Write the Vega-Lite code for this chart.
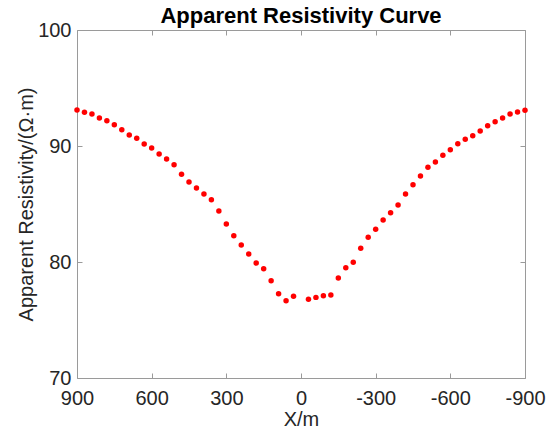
{
  "$schema": "https://vega.github.io/schema/vega-lite/v6.json",
  "width": 448,
  "height": 348,
  "autosize": {"type": "none"},
  "padding": {"left": 77, "top": 30, "right": 29, "bottom": 52},
  "background": "white",
  "title": {
    "text": "Apparent Resistivity Curve",
    "font": "Liberation Sans",
    "fontSize": 22,
    "fontWeight": "bold",
    "color": "#000000",
    "anchor": "middle",
    "offset": 4,
    "dy": 12
  },
  "config": {
    "view": {"stroke": null},
    "axis": {
      "labelFont": "Liberation Sans",
      "titleFont": "Liberation Sans",
      "labelFontSize": 20,
      "titleFontSize": 20,
      "labelColor": "#262626",
      "titleColor": "#262626",
      "titleFontWeight": "normal",
      "domainColor": "#9a9a9a",
      "tickColor": "#9a9a9a",
      "domainWidth": 1,
      "tickWidth": 1,
      "grid": false
    }
  },
  "data": {
    "values": [
      {"x": 900, "rho": 93.1},
      {"x": 870, "rho": 92.9},
      {"x": 840, "rho": 92.76},
      {"x": 810, "rho": 92.41},
      {"x": 780, "rho": 92.18},
      {"x": 750, "rho": 91.84},
      {"x": 720, "rho": 91.41},
      {"x": 690, "rho": 90.95},
      {"x": 660, "rho": 90.66},
      {"x": 630, "rho": 90.17},
      {"x": 600, "rho": 89.83},
      {"x": 570, "rho": 89.31},
      {"x": 540, "rho": 88.88},
      {"x": 510, "rho": 88.39},
      {"x": 480, "rho": 87.56},
      {"x": 450, "rho": 86.9},
      {"x": 420, "rho": 86.38},
      {"x": 390, "rho": 85.86},
      {"x": 360, "rho": 85.37},
      {"x": 330, "rho": 84.4},
      {"x": 300, "rho": 83.28},
      {"x": 270, "rho": 82.27},
      {"x": 240, "rho": 81.47},
      {"x": 210, "rho": 80.69},
      {"x": 180, "rho": 79.91},
      {"x": 150, "rho": 79.42},
      {"x": 120, "rho": 78.39},
      {"x": 90, "rho": 77.27},
      {"x": 60, "rho": 76.66},
      {"x": 30, "rho": 77.04},
      {"x": -30, "rho": 76.78},
      {"x": -60, "rho": 76.95},
      {"x": -90, "rho": 77.1},
      {"x": -120, "rho": 77.16},
      {"x": -150, "rho": 78.62},
      {"x": -180, "rho": 79.51},
      {"x": -210, "rho": 79.97},
      {"x": -240, "rho": 81.18},
      {"x": -270, "rho": 82.13},
      {"x": -300, "rho": 82.82},
      {"x": -330, "rho": 83.62},
      {"x": -360, "rho": 84.25},
      {"x": -390, "rho": 84.91},
      {"x": -420, "rho": 85.86},
      {"x": -450, "rho": 86.66},
      {"x": -480, "rho": 87.41},
      {"x": -510, "rho": 88.16},
      {"x": -540, "rho": 88.62},
      {"x": -570, "rho": 89.2},
      {"x": -600, "rho": 89.68},
      {"x": -630, "rho": 90.2},
      {"x": -660, "rho": 90.58},
      {"x": -690, "rho": 90.89},
      {"x": -720, "rho": 91.29},
      {"x": -750, "rho": 91.75},
      {"x": -780, "rho": 92.1},
      {"x": -810, "rho": 92.41},
      {"x": -840, "rho": 92.76},
      {"x": -870, "rho": 92.93},
      {"x": -900, "rho": 93.08}
    ]
  },
  "layer": [
    {
      "mark": {"type": "point", "filled": true, "color": "#ff0000", "opacity": 0, "size": 1},
      "encoding": {
        "x": {
          "field": "x", "type": "quantitative",
          "scale": {"domain": [-900, 900], "reverse": true, "nice": false, "zero": false},
          "axis": {"orient": "top", "values": [-900, -600, -300, 0, 300, 600, 900], "labels": false, "title": null, "tickSize": -5}
        },
        "y": {
          "field": "rho", "type": "quantitative",
          "scale": {"domain": [70, 100], "nice": false, "zero": false},
          "axis": {"orient": "right", "values": [70, 80, 90, 100], "labels": false, "title": null, "tickSize": -5}
        }
      }
    },
    {
      "mark": {"type": "point", "filled": true, "color": "#ff0000", "opacity": 1, "size": 30, "strokeWidth": 0},
      "encoding": {
        "x": {
          "field": "x", "type": "quantitative",
          "scale": {"domain": [-900, 900], "reverse": true, "nice": false, "zero": false},
          "axis": {"orient": "bottom", "values": [-900, -600, -300, 0, 300, 600, 900], "labelExpr": "'' + datum.value", "title": "X/m", "tickSize": -5, "labelPadding": 15, "titlePadding": 1, "labelFlush": false}
        },
        "y": {
          "field": "rho", "type": "quantitative",
          "scale": {"domain": [70, 100], "nice": false, "zero": false},
          "axis": {"orient": "left", "values": [70, 80, 90, 100], "title": "Apparent Resistivity/(Ω·m)", "tickSize": -5, "labelPadding": 11, "titlePadding": 1, "labelFlush": false}
        }
      }
    }
  ],
  "resolve": {"axis": {"x": "independent", "y": "independent"}}
}
